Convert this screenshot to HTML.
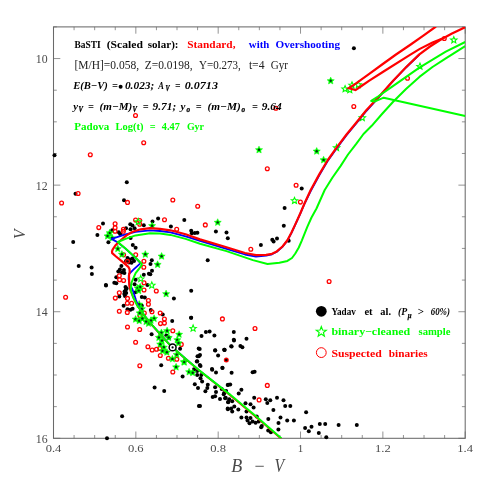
<!DOCTYPE html>
<html><head><meta charset="utf-8"><title>CMD</title>
<style>
html,body{margin:0;padding:0;background:#fff;}
body{width:491px;height:491px;position:relative;overflow:hidden;font-family:"Liberation Serif",serif;}
.s{font-family:"Liberation Serif",serif;}
</style></head><body>
<svg width="491" height="491" viewBox="0 0 491 491" style="position:absolute;left:0;top:0;will-change:transform;opacity:0.999">
<rect width="491" height="491" fill="#fff"/>
<defs><clipPath id="c"><rect x="53.5" y="26.9" width="411.7" height="411.40000000000003"/></clipPath></defs>
<rect x="53.5" y="26.9" width="411.7" height="411.4" fill="none" stroke="#6a6a6a" stroke-width="1.05"/>
<path d="M53.50,438.3v-6.8M53.50,26.9v6.8M74.08,438.3v-3.3M74.08,26.9v3.3M94.67,438.3v-3.3M94.67,26.9v3.3M115.26,438.3v-3.3M115.26,26.9v3.3M135.84,438.3v-6.8M135.84,26.9v6.8M156.43,438.3v-3.3M156.43,26.9v3.3M177.01,438.3v-3.3M177.01,26.9v3.3M197.59,438.3v-3.3M197.59,26.9v3.3M218.18,438.3v-6.8M218.18,26.9v6.8M238.77,438.3v-3.3M238.77,26.9v3.3M259.35,438.3v-3.3M259.35,26.9v3.3M279.94,438.3v-3.3M279.94,26.9v3.3M300.52,438.3v-6.8M300.52,26.9v6.8M321.11,438.3v-3.3M321.11,26.9v3.3M341.69,438.3v-3.3M341.69,26.9v3.3M362.27,438.3v-3.3M362.27,26.9v3.3M382.86,438.3v-6.8M382.86,26.9v6.8M403.44,438.3v-3.3M403.44,26.9v3.3M424.03,438.3v-3.3M424.03,26.9v3.3M444.62,438.3v-3.3M444.62,26.9v3.3M465.20,438.3v-6.8M465.20,26.9v6.8M53.5,26.90h3.3M465.2,26.90h-3.3M53.5,58.55h6.8M465.2,58.55h-6.8M53.5,90.19h3.3M465.2,90.19h-3.3M53.5,121.84h3.3M465.2,121.84h-3.3M53.5,153.48h3.3M465.2,153.48h-3.3M53.5,185.13h6.8M465.2,185.13h-6.8M53.5,216.78h3.3M465.2,216.78h-3.3M53.5,248.42h3.3M465.2,248.42h-3.3M53.5,280.07h3.3M465.2,280.07h-3.3M53.5,311.72h6.8M465.2,311.72h-6.8M53.5,343.36h3.3M465.2,343.36h-3.3M53.5,375.01h3.3M465.2,375.01h-3.3M53.5,406.65h3.3M465.2,406.65h-3.3M53.5,438.30h6.8M465.2,438.30h-6.8" stroke="#666" stroke-width="0.7" fill="none"/>
<text x="53.5" y="451.5" text-anchor="middle" font-size="11" fill="#4a4a4a" class="s" textLength="15.7" lengthAdjust="spacingAndGlyphs">0.4</text>
<text x="135.8" y="451.5" text-anchor="middle" font-size="11" fill="#4a4a4a" class="s" textLength="15.7" lengthAdjust="spacingAndGlyphs">0.6</text>
<text x="218.2" y="451.5" text-anchor="middle" font-size="11" fill="#4a4a4a" class="s" textLength="15.7" lengthAdjust="spacingAndGlyphs">0.8</text>
<text x="300.5" y="451.5" text-anchor="middle" font-size="11" fill="#4a4a4a" class="s">1</text>
<text x="382.9" y="451.5" text-anchor="middle" font-size="11" fill="#4a4a4a" class="s" textLength="15.7" lengthAdjust="spacingAndGlyphs">1.2</text>
<text x="465.2" y="451.5" text-anchor="middle" font-size="11" fill="#4a4a4a" class="s" textLength="15.7" lengthAdjust="spacingAndGlyphs">1.4</text>
<text x="47.6" y="62.9" text-anchor="end" font-size="12" fill="#4a4a4a" class="s" textLength="11.8" lengthAdjust="spacingAndGlyphs">10</text>
<text x="47.6" y="189.5" text-anchor="end" font-size="12" fill="#4a4a4a" class="s" textLength="11.8" lengthAdjust="spacingAndGlyphs">12</text>
<text x="47.6" y="316.1" text-anchor="end" font-size="12" fill="#4a4a4a" class="s" textLength="11.8" lengthAdjust="spacingAndGlyphs">14</text>
<text x="47.6" y="442.7" text-anchor="end" font-size="12" fill="#4a4a4a" class="s" textLength="11.8" lengthAdjust="spacingAndGlyphs">16</text>
<text x="231.2" y="472.4" font-size="18" fill="#4a4a4a" class="s" font-style="italic">B</text>
<text x="259.6" y="472.4" text-anchor="middle" font-size="18" fill="#4a4a4a" class="s">−</text>
<text x="274.6" y="472.4" font-size="18" fill="#4a4a4a" class="s" font-style="italic" textLength="9.6" lengthAdjust="spacingAndGlyphs">V</text>
<text transform="translate(24.8,239) rotate(-90)" font-size="17.5" fill="#4a4a4a" class="s" font-style="italic" textLength="9.6" lengthAdjust="spacingAndGlyphs">V</text>
<g>
<g fill="#000">
<circle cx="54.5" cy="155.2" r="2"/>
<circle cx="126.8" cy="182.3" r="2"/>
<circle cx="75.5" cy="193.7" r="2"/>
<circle cx="124.0" cy="200.2" r="2"/>
<circle cx="353.9" cy="48.3" r="2"/>
<circle cx="120.6" cy="86.8" r="2"/>
<circle cx="301.7" cy="188.6" r="2"/>
<circle cx="284.6" cy="208" r="2"/>
<circle cx="283.8" cy="225.7" r="2"/>
<circle cx="215.9" cy="231.6" r="2"/>
<circle cx="226.5" cy="232.6" r="2"/>
<circle cx="227.8" cy="238.2" r="2"/>
<circle cx="260.9" cy="245" r="2"/>
<circle cx="272.3" cy="239.8" r="2"/>
<circle cx="273.6" cy="241.4" r="2"/>
<circle cx="277" cy="238.4" r="2"/>
<circle cx="288.7" cy="240.8" r="2"/>
<circle cx="207.7" cy="260.2" r="2"/>
<circle cx="103.0" cy="223.5" r="2"/>
<circle cx="108.4" cy="242.3" r="2"/>
<circle cx="112.2" cy="230.3" r="2"/>
<circle cx="118.8" cy="232.3" r="2"/>
<circle cx="120.4" cy="234.3" r="2"/>
<circle cx="126" cy="228.2" r="2"/>
<circle cx="130.3" cy="224.3" r="2"/>
<circle cx="132.5" cy="225.5" r="2"/>
<circle cx="130.5" cy="229.3" r="2"/>
<circle cx="134.6" cy="228.2" r="2"/>
<circle cx="143.8" cy="225.2" r="2"/>
<circle cx="130.6" cy="238.1" r="2"/>
<circle cx="132.8" cy="245" r="2"/>
<circle cx="135.6" cy="247.8" r="2"/>
<circle cx="127.5" cy="258" r="2"/>
<circle cx="130" cy="259.5" r="2"/>
<circle cx="132.5" cy="258.5" r="2"/>
<circle cx="134" cy="261" r="2"/>
<circle cx="129" cy="262.5" r="2"/>
<circle cx="131.5" cy="262.8" r="2"/>
<circle cx="126" cy="261" r="2"/>
<circle cx="97.4" cy="235.1" r="2"/>
<circle cx="105.9" cy="285.1" r="2"/>
<circle cx="114.3" cy="282.8" r="2"/>
<circle cx="116.3" cy="283.3" r="2"/>
<circle cx="116.3" cy="277.2" r="2"/>
<circle cx="121.4" cy="266" r="2"/>
<circle cx="119.9" cy="269.6" r="2"/>
<circle cx="118.3" cy="271.6" r="2"/>
<circle cx="123.9" cy="270.1" r="2"/>
<circle cx="124.4" cy="273.1" r="2"/>
<circle cx="121.9" cy="272.6" r="2"/>
<circle cx="125.5" cy="287" r="2"/>
<circle cx="125.7" cy="290" r="2"/>
<circle cx="126.2" cy="293" r="2"/>
<circle cx="125" cy="296" r="2"/>
<circle cx="124.6" cy="291.5" r="2"/>
<circle cx="126.6" cy="288.5" r="2"/>
<circle cx="124.3" cy="294" r="2"/>
<circle cx="119.3" cy="296.6" r="2"/>
<circle cx="123.6" cy="305.7" r="2"/>
<circle cx="132.6" cy="308.8" r="2"/>
<circle cx="127.5" cy="309.3" r="2"/>
<circle cx="130.5" cy="309.8" r="2"/>
<circle cx="143.8" cy="274.7" r="2"/>
<circle cx="148.9" cy="273.7" r="2"/>
<circle cx="135.6" cy="279.8" r="2"/>
<circle cx="147.4" cy="284.9" r="2"/>
<circle cx="134.6" cy="284.3" r="2"/>
<circle cx="135.6" cy="292.3" r="2"/>
<circle cx="141.8" cy="297.1" r="2"/>
<circle cx="144.8" cy="297.4" r="2"/>
<circle cx="141.8" cy="305.7" r="2"/>
<circle cx="152.5" cy="221.6" r="2"/>
<circle cx="158.1" cy="218.6" r="2"/>
<circle cx="170.9" cy="226.5" r="2"/>
<circle cx="184.3" cy="220.1" r="2"/>
<circle cx="191.2" cy="230.8" r="2"/>
<circle cx="191.8" cy="233.3" r="2"/>
<circle cx="194.8" cy="233.1" r="2"/>
<circle cx="197.4" cy="232.8" r="2"/>
<circle cx="151.8" cy="260.3" r="2"/>
<circle cx="150.5" cy="263.9" r="2"/>
<circle cx="152" cy="270.8" r="2"/>
<circle cx="150.3" cy="274.2" r="2"/>
<circle cx="173.9" cy="298.4" r="2"/>
<circle cx="191.2" cy="290.8" r="2"/>
<circle cx="162.7" cy="314.4" r="2"/>
<circle cx="73.2" cy="242.1" r="2"/>
<circle cx="78.7" cy="265.9" r="2"/>
<circle cx="91.6" cy="267.5" r="2"/>
<circle cx="91.9" cy="273.9" r="2"/>
<circle cx="106" cy="285.5" r="2"/>
<circle cx="150.8" cy="310.1" r="2"/>
<circle cx="172.2" cy="320.9" r="2"/>
<circle cx="191.1" cy="317.7" r="2"/>
<circle cx="151.6" cy="334.3" r="2"/>
<circle cx="166.3" cy="335.6" r="2"/>
<circle cx="169.3" cy="337.8" r="2"/>
<circle cx="180.1" cy="348.7" r="2"/>
<circle cx="198.7" cy="348.4" r="2"/>
<circle cx="197.5" cy="356.3" r="2"/>
<circle cx="196.8" cy="361.5" r="2"/>
<circle cx="200" cy="355.1" r="2"/>
<circle cx="161.2" cy="365.3" r="2"/>
<circle cx="182.6" cy="376.6" r="2"/>
<circle cx="154.6" cy="387.6" r="2"/>
<circle cx="164.2" cy="391" r="2"/>
<circle cx="198.9" cy="406" r="2"/>
<circle cx="194.8" cy="384.3" r="2"/>
<circle cx="198" cy="388" r="2"/>
<circle cx="199.7" cy="349" r="2"/>
<circle cx="198.9" cy="356.3" r="2"/>
<circle cx="197.2" cy="361.2" r="2"/>
<circle cx="200.5" cy="366.1" r="2"/>
<circle cx="194" cy="369.3" r="2"/>
<circle cx="197.2" cy="370.9" r="2"/>
<circle cx="197.2" cy="375" r="2"/>
<circle cx="201.3" cy="375" r="2"/>
<circle cx="200.5" cy="378.3" r="2"/>
<circle cx="202.1" cy="381.5" r="2"/>
<circle cx="207.8" cy="384.8" r="2"/>
<circle cx="207.3" cy="388" r="2"/>
<circle cx="205.4" cy="391.3" r="2"/>
<circle cx="215.1" cy="350.6" r="2"/>
<circle cx="218.1" cy="355.5" r="2"/>
<circle cx="224.6" cy="350.1" r="2"/>
<circle cx="212.2" cy="369.8" r="2"/>
<circle cx="216" cy="372.6" r="2"/>
<circle cx="222.5" cy="368" r="2"/>
<circle cx="215.1" cy="387.2" r="2"/>
<circle cx="216" cy="392.1" r="2"/>
<circle cx="212.7" cy="397" r="2"/>
<circle cx="215.1" cy="396.2" r="2"/>
<circle cx="220" cy="399" r="2"/>
<circle cx="221.7" cy="388.9" r="2"/>
<circle cx="224.1" cy="392.9" r="2"/>
<circle cx="225.7" cy="397.8" r="2"/>
<circle cx="228.2" cy="384.8" r="2"/>
<circle cx="228.2" cy="401.9" r="2"/>
<circle cx="227.9" cy="409.2" r="2"/>
<circle cx="233.8" cy="332" r="2"/>
<circle cx="233.8" cy="339.8" r="2"/>
<circle cx="246.5" cy="338.8" r="2"/>
<circle cx="231.2" cy="346.3" r="2"/>
<circle cx="240.4" cy="345.9" r="2"/>
<circle cx="242.4" cy="347.3" r="2"/>
<circle cx="224.5" cy="349.8" r="2"/>
<circle cx="222.4" cy="367.7" r="2"/>
<circle cx="231.6" cy="372.8" r="2"/>
<circle cx="252.6" cy="372.2" r="2"/>
<circle cx="254.6" cy="371.8" r="2"/>
<circle cx="227.7" cy="385" r="2"/>
<circle cx="230.2" cy="384.4" r="2"/>
<circle cx="241.4" cy="389.7" r="2"/>
<circle cx="238.7" cy="393.5" r="2"/>
<circle cx="226.1" cy="391.1" r="2"/>
<circle cx="223.7" cy="394.2" r="2"/>
<circle cx="225.1" cy="398.2" r="2"/>
<circle cx="229.2" cy="399.2" r="2"/>
<circle cx="228.1" cy="402.3" r="2"/>
<circle cx="232.2" cy="401.3" r="2"/>
<circle cx="234.3" cy="406.4" r="2"/>
<circle cx="231.2" cy="408.4" r="2"/>
<circle cx="227.7" cy="408.4" r="2"/>
<circle cx="232.2" cy="411.5" r="2"/>
<circle cx="238.3" cy="409.4" r="2"/>
<circle cx="245.5" cy="403.3" r="2"/>
<circle cx="250.5" cy="404.3" r="2"/>
<circle cx="253.6" cy="407.4" r="2"/>
<circle cx="246.5" cy="411.5" r="2"/>
<circle cx="254.2" cy="397.8" r="2"/>
<circle cx="241.4" cy="417.6" r="2"/>
<circle cx="246.5" cy="417.6" r="2"/>
<circle cx="250.5" cy="418" r="2"/>
<circle cx="247.5" cy="420.6" r="2"/>
<circle cx="252.6" cy="421.6" r="2"/>
<circle cx="249.5" cy="423.3" r="2"/>
<circle cx="255.6" cy="422.7" r="2"/>
<circle cx="258.7" cy="421.6" r="2"/>
<circle cx="256.7" cy="416.6" r="2"/>
<circle cx="261.8" cy="426.1" r="2"/>
<circle cx="268.3" cy="419" r="2"/>
<circle cx="265.8" cy="399.2" r="2"/>
<circle cx="267.3" cy="402.9" r="2"/>
<circle cx="270.3" cy="400.3" r="2"/>
<circle cx="277" cy="397.8" r="2"/>
<circle cx="283.5" cy="400.3" r="2"/>
<circle cx="285.2" cy="406" r="2"/>
<circle cx="290.3" cy="406" r="2"/>
<circle cx="273.4" cy="410" r="2"/>
<circle cx="280.5" cy="417.4" r="2"/>
<circle cx="278.5" cy="423.1" r="2"/>
<circle cx="287.2" cy="420.5" r="2"/>
<circle cx="293.9" cy="420.6" r="2"/>
<circle cx="306.1" cy="412.2" r="2"/>
<circle cx="305.1" cy="428" r="2"/>
<circle cx="311.5" cy="426.8" r="2"/>
<circle cx="308.8" cy="431.3" r="2"/>
<circle cx="319.8" cy="424.1" r="2"/>
<circle cx="325.2" cy="424.1" r="2"/>
<circle cx="261.1" cy="427.2" r="2"/>
<circle cx="268.2" cy="430.5" r="2"/>
<circle cx="270.9" cy="432.3" r="2"/>
<circle cx="278.4" cy="429.5" r="2"/>
<circle cx="318.8" cy="433.1" r="2"/>
<circle cx="326.3" cy="437.2" r="2"/>
<circle cx="338.6" cy="424.9" r="2"/>
<circle cx="356.8" cy="424.9" r="2"/>
<circle cx="122.1" cy="416.3" r="2"/>
<circle cx="107" cy="438.3" r="2"/>
<circle cx="205.9" cy="331.9" r="2"/>
<circle cx="209.6" cy="331.4" r="2"/>
<circle cx="201.5" cy="336.1" r="2"/>
<circle cx="214.4" cy="335.6" r="2"/>
<circle cx="234" cy="340.5" r="2"/>
<circle cx="231.6" cy="346.6" r="2"/>
<circle cx="224.2" cy="349.8" r="2"/>
<circle cx="215.2" cy="350.2" r="2"/>
<circle cx="199.8" cy="364.9" r="2"/>
<circle cx="212" cy="369.1" r="2"/>
<circle cx="191.1" cy="317.7" r="2"/>
<circle cx="200" cy="406.1" r="2"/>
</g>
<g fill="none" stroke="#f00" stroke-width="1.3">
<circle cx="197.7" cy="206.3" r="1.9"/>
<circle cx="135.5" cy="115.5" r="1.9"/>
<circle cx="143.7" cy="142.8" r="1.9"/>
<circle cx="90.3" cy="154.8" r="1.9"/>
<circle cx="78.1" cy="193.5" r="1.9"/>
<circle cx="172.8" cy="200" r="1.9"/>
<circle cx="275.9" cy="108.2" r="1.9"/>
<circle cx="127.5" cy="202.4" r="1.9"/>
<circle cx="444.3" cy="38.5" r="1.9"/>
<circle cx="407.5" cy="78.2" r="1.9"/>
<circle cx="353.8" cy="106.5" r="1.9"/>
<circle cx="267.3" cy="168.8" r="1.9"/>
<circle cx="296.1" cy="185.2" r="1.9"/>
<circle cx="300.4" cy="202.1" r="1.9"/>
<circle cx="205.3" cy="224.9" r="1.9"/>
<circle cx="250.8" cy="249.3" r="1.9"/>
<circle cx="329.1" cy="281.5" r="1.9"/>
<circle cx="222.4" cy="318.9" r="1.9"/>
<circle cx="255" cy="328.5" r="1.9"/>
<circle cx="115.1" cy="223.7" r="1.9"/>
<circle cx="115.1" cy="227.7" r="1.9"/>
<circle cx="115.1" cy="231.3" r="1.9"/>
<circle cx="123.4" cy="229.3" r="1.9"/>
<circle cx="123.4" cy="231.3" r="1.9"/>
<circle cx="135.6" cy="220.1" r="1.9"/>
<circle cx="139.7" cy="220.6" r="1.9"/>
<circle cx="139.7" cy="224.2" r="1.9"/>
<circle cx="123.6" cy="254.7" r="1.9"/>
<circle cx="135.7" cy="254.8" r="1.9"/>
<circle cx="127.5" cy="261.3" r="1.9"/>
<circle cx="143.9" cy="261.3" r="1.9"/>
<circle cx="143.8" cy="267.3" r="1.9"/>
<circle cx="119.3" cy="275.7" r="1.9"/>
<circle cx="119.6" cy="279.8" r="1.9"/>
<circle cx="123.6" cy="280.5" r="1.9"/>
<circle cx="119.3" cy="292.7" r="1.9"/>
<circle cx="115.3" cy="298.1" r="1.9"/>
<circle cx="127.5" cy="298.4" r="1.9"/>
<circle cx="127.3" cy="303.2" r="1.9"/>
<circle cx="131.6" cy="303.2" r="1.9"/>
<circle cx="119.3" cy="311.3" r="1.9"/>
<circle cx="127.3" cy="312.4" r="1.9"/>
<circle cx="144" cy="282.8" r="1.9"/>
<circle cx="144" cy="290" r="1.9"/>
<circle cx="148.4" cy="300.6" r="1.9"/>
<circle cx="148.4" cy="304.2" r="1.9"/>
<circle cx="144.3" cy="313" r="1.9"/>
<circle cx="164.5" cy="219.8" r="1.9"/>
<circle cx="176.7" cy="229.3" r="1.9"/>
<circle cx="156.3" cy="291" r="1.9"/>
<circle cx="152" cy="311.8" r="1.9"/>
<circle cx="160.2" cy="313" r="1.9"/>
<circle cx="61.6" cy="203" r="1.9"/>
<circle cx="98.8" cy="227.6" r="1.9"/>
<circle cx="65.6" cy="297.2" r="1.9"/>
<circle cx="127.5" cy="327" r="1.9"/>
<circle cx="139.7" cy="329.5" r="1.9"/>
<circle cx="135.6" cy="342.3" r="1.9"/>
<circle cx="147.9" cy="346.7" r="1.9"/>
<circle cx="139.8" cy="365.8" r="1.9"/>
<circle cx="139.9" cy="315.5" r="1.9"/>
<circle cx="164.4" cy="319.1" r="1.9"/>
<circle cx="164.4" cy="323.1" r="1.9"/>
<circle cx="160.5" cy="323.6" r="1.9"/>
<circle cx="172.8" cy="330.7" r="1.9"/>
<circle cx="181.3" cy="344.4" r="1.9"/>
<circle cx="152.2" cy="350" r="1.9"/>
<circle cx="156.5" cy="349.3" r="1.9"/>
<circle cx="159.8" cy="348.4" r="1.9"/>
<circle cx="160.3" cy="355.5" r="1.9"/>
<circle cx="168.4" cy="358.2" r="1.9"/>
<circle cx="176.8" cy="359.3" r="1.9"/>
<circle cx="172.8" cy="372" r="1.9"/>
<circle cx="267.3" cy="385.4" r="1.9"/>
<circle cx="259.1" cy="399.9" r="1.9"/>
</g>
<circle cx="226.3" cy="360" r="2.5" fill="#f00"/><circle cx="226.3" cy="360" r="1.35" fill="#100"/>
<path d="M330.70,77.10 L331.79,79.40 L334.31,79.73 L332.46,81.47 L332.93,83.97 L330.70,82.75 L328.47,83.97 L328.94,81.47 L327.09,79.73 L329.61,79.40Z" fill="#0f0" stroke="#0f0" stroke-width="0.45" stroke-linejoin="round"/><circle cx="330.7" cy="80.8" r="1.2" fill="#031"/>
<path d="M259.00,146.10 L260.09,148.40 L262.61,148.73 L260.76,150.47 L261.23,152.97 L259.00,151.75 L256.77,152.97 L257.24,150.47 L255.39,148.73 L257.91,148.40Z" fill="#0f0" stroke="#0f0" stroke-width="0.45" stroke-linejoin="round"/><circle cx="259" cy="149.79999999999998" r="1.2" fill="#031"/>
<path d="M316.70,147.50 L317.79,149.80 L320.31,150.13 L318.46,151.87 L318.93,154.37 L316.70,153.15 L314.47,154.37 L314.94,151.87 L313.09,150.13 L315.61,149.80Z" fill="#0f0" stroke="#0f0" stroke-width="0.45" stroke-linejoin="round"/><circle cx="316.7" cy="151.2" r="1.2" fill="#031"/>
<path d="M323.60,156.20 L324.69,158.50 L327.21,158.83 L325.36,160.57 L325.83,163.07 L323.60,161.85 L321.37,163.07 L321.84,160.57 L319.99,158.83 L322.51,158.50Z" fill="#0f0" stroke="#0f0" stroke-width="0.45" stroke-linejoin="round"/><circle cx="323.6" cy="159.9" r="1.2" fill="#031"/>
<path d="M217.70,218.70 L218.79,221.00 L221.31,221.33 L219.46,223.07 L219.93,225.57 L217.70,224.35 L215.47,225.57 L215.94,223.07 L214.09,221.33 L216.61,221.00Z" fill="#0f0" stroke="#0f0" stroke-width="0.45" stroke-linejoin="round"/><circle cx="217.7" cy="222.4" r="1.2" fill="#031"/>
<path d="M109.70,229.20 L110.79,231.50 L113.31,231.83 L111.46,233.57 L111.93,236.07 L109.70,234.85 L107.47,236.07 L107.94,233.57 L106.09,231.83 L108.61,231.50Z" fill="#0f0" stroke="#0f0" stroke-width="0.45" stroke-linejoin="round"/><circle cx="109.7" cy="232.9" r="1.2" fill="#031"/>
<path d="M107.60,232.30 L108.69,234.60 L111.21,234.93 L109.36,236.67 L109.83,239.17 L107.60,237.95 L105.37,239.17 L105.84,236.67 L103.99,234.93 L106.51,234.60Z" fill="#0f0" stroke="#0f0" stroke-width="0.45" stroke-linejoin="round"/><circle cx="107.6" cy="236.0" r="1.2" fill="#031"/>
<path d="M112.20,234.30 L113.29,236.60 L115.81,236.93 L113.96,238.67 L114.43,241.17 L112.20,239.95 L109.97,241.17 L110.44,238.67 L108.59,236.93 L111.11,236.60Z" fill="#0f0" stroke="#0f0" stroke-width="0.45" stroke-linejoin="round"/><circle cx="112.2" cy="238.0" r="1.2" fill="#031"/>
<path d="M117.80,245.00 L118.89,247.30 L121.41,247.63 L119.56,249.37 L120.03,251.87 L117.80,250.65 L115.57,251.87 L116.04,249.37 L114.19,247.63 L116.71,247.30Z" fill="#0f0" stroke="#0f0" stroke-width="0.45" stroke-linejoin="round"/><circle cx="117.8" cy="248.7" r="1.2" fill="#031"/>
<path d="M121.90,250.60 L122.99,252.90 L125.51,253.23 L123.66,254.97 L124.13,257.47 L121.90,256.25 L119.67,257.47 L120.14,254.97 L118.29,253.23 L120.81,252.90Z" fill="#0f0" stroke="#0f0" stroke-width="0.45" stroke-linejoin="round"/><circle cx="121.9" cy="254.29999999999998" r="1.2" fill="#031"/>
<path d="M145.30,250.60 L146.39,252.90 L148.91,253.23 L147.06,254.97 L147.53,257.47 L145.30,256.25 L143.07,257.47 L143.54,254.97 L141.69,253.23 L144.21,252.90Z" fill="#0f0" stroke="#0f0" stroke-width="0.45" stroke-linejoin="round"/><circle cx="145.3" cy="254.29999999999998" r="1.2" fill="#031"/>
<path d="M137.70,284.30 L138.79,286.60 L141.31,286.93 L139.46,288.67 L139.93,291.17 L137.70,289.95 L135.47,291.17 L135.94,288.67 L134.09,286.93 L136.61,286.60Z" fill="#0f0" stroke="#0f0" stroke-width="0.45" stroke-linejoin="round"/><circle cx="137.7" cy="288.0" r="1.2" fill="#031"/>
<path d="M140.20,283.30 L141.29,285.60 L143.81,285.93 L141.96,287.67 L142.43,290.17 L140.20,288.95 L137.97,290.17 L138.44,287.67 L136.59,285.93 L139.11,285.60Z" fill="#0f0" stroke="#0f0" stroke-width="0.45" stroke-linejoin="round"/><circle cx="140.2" cy="287.0" r="1.2" fill="#031"/>
<path d="M138.70,286.90 L139.79,289.20 L142.31,289.53 L140.46,291.27 L140.93,293.77 L138.70,292.55 L136.47,293.77 L136.94,291.27 L135.09,289.53 L137.61,289.20Z" fill="#0f0" stroke="#0f0" stroke-width="0.45" stroke-linejoin="round"/><circle cx="138.7" cy="290.6" r="1.2" fill="#031"/>
<path d="M139.20,300.60 L140.29,302.90 L142.81,303.23 L140.96,304.97 L141.43,307.47 L139.20,306.25 L136.97,307.47 L137.44,304.97 L135.59,303.23 L138.11,302.90Z" fill="#0f0" stroke="#0f0" stroke-width="0.45" stroke-linejoin="round"/><circle cx="139.2" cy="304.3" r="1.2" fill="#031"/>
<path d="M141.80,305.20 L142.89,307.50 L145.41,307.83 L143.56,309.57 L144.03,312.07 L141.80,310.85 L139.57,312.07 L140.04,309.57 L138.19,307.83 L140.71,307.50Z" fill="#0f0" stroke="#0f0" stroke-width="0.45" stroke-linejoin="round"/><circle cx="141.8" cy="308.90000000000003" r="1.2" fill="#031"/>
<path d="M139.70,309.30 L140.79,311.60 L143.31,311.93 L141.46,313.67 L141.93,316.17 L139.70,314.95 L137.47,316.17 L137.94,313.67 L136.09,311.93 L138.61,311.60Z" fill="#0f0" stroke="#0f0" stroke-width="0.45" stroke-linejoin="round"/><circle cx="139.7" cy="313.0" r="1.2" fill="#031"/>
<path d="M152.10,222.00 L153.19,224.30 L155.71,224.63 L153.86,226.37 L154.33,228.87 L152.10,227.65 L149.87,228.87 L150.34,226.37 L148.49,224.63 L151.01,224.30Z" fill="#0f0" stroke="#0f0" stroke-width="0.45" stroke-linejoin="round"/><circle cx="152.1" cy="225.7" r="1.2" fill="#031"/>
<path d="M161.60,252.50 L162.69,254.80 L165.21,255.13 L163.36,256.87 L163.83,259.37 L161.60,258.15 L159.37,259.37 L159.84,256.87 L157.99,255.13 L160.51,254.80Z" fill="#0f0" stroke="#0f0" stroke-width="0.45" stroke-linejoin="round"/><circle cx="161.6" cy="256.20000000000005" r="1.2" fill="#031"/>
<path d="M157.60,260.80 L158.69,263.10 L161.21,263.43 L159.36,265.17 L159.83,267.67 L157.60,266.45 L155.37,267.67 L155.84,265.17 L153.99,263.43 L156.51,263.10Z" fill="#0f0" stroke="#0f0" stroke-width="0.45" stroke-linejoin="round"/><circle cx="157.6" cy="264.5" r="1.2" fill="#031"/>
<path d="M166.10,290.10 L167.19,292.40 L169.71,292.73 L167.86,294.47 L168.33,296.97 L166.10,295.75 L163.87,296.97 L164.34,294.47 L162.49,292.73 L165.01,292.40Z" fill="#0f0" stroke="#0f0" stroke-width="0.45" stroke-linejoin="round"/><circle cx="166.1" cy="293.8" r="1.2" fill="#031"/>
<path d="M135.60,315.50 L136.69,317.80 L139.21,318.13 L137.36,319.87 L137.83,322.37 L135.60,321.15 L133.37,322.37 L133.84,319.87 L131.99,318.13 L134.51,317.80Z" fill="#0f0" stroke="#0f0" stroke-width="0.45" stroke-linejoin="round"/><circle cx="135.6" cy="319.20000000000005" r="1.2" fill="#031"/>
<path d="M139.20,317.00 L140.29,319.30 L142.81,319.63 L140.96,321.37 L141.43,323.87 L139.20,322.65 L136.97,323.87 L137.44,321.37 L135.59,319.63 L138.11,319.30Z" fill="#0f0" stroke="#0f0" stroke-width="0.45" stroke-linejoin="round"/><circle cx="139.2" cy="320.70000000000005" r="1.2" fill="#031"/>
<path d="M142.40,314.80 L143.49,317.10 L146.01,317.43 L144.16,319.17 L144.63,321.67 L142.40,320.45 L140.17,321.67 L140.64,319.17 L138.79,317.43 L141.31,317.10Z" fill="#0f0" stroke="#0f0" stroke-width="0.45" stroke-linejoin="round"/><circle cx="142.4" cy="318.5" r="1.2" fill="#031"/>
<path d="M148.60,319.70 L149.69,322.00 L152.21,322.33 L150.36,324.07 L150.83,326.57 L148.60,325.35 L146.37,326.57 L146.84,324.07 L144.99,322.33 L147.51,322.00Z" fill="#0f0" stroke="#0f0" stroke-width="0.45" stroke-linejoin="round"/><circle cx="148.6" cy="323.40000000000003" r="1.2" fill="#031"/>
<path d="M154.10,314.80 L155.19,317.10 L157.71,317.43 L155.86,319.17 L156.33,321.67 L154.10,320.45 L151.87,321.67 L152.34,319.17 L150.49,317.43 L153.01,317.10Z" fill="#0f0" stroke="#0f0" stroke-width="0.45" stroke-linejoin="round"/><circle cx="154.1" cy="318.5" r="1.2" fill="#031"/>
<path d="M151.00,316.70 L152.09,319.00 L154.61,319.33 L152.76,321.07 L153.23,323.57 L151.00,322.35 L148.77,323.57 L149.24,321.07 L147.39,319.33 L149.91,319.00Z" fill="#0f0" stroke="#0f0" stroke-width="0.45" stroke-linejoin="round"/><circle cx="151" cy="320.40000000000003" r="1.2" fill="#031"/>
<path d="M146.10,317.90 L147.19,320.20 L149.71,320.53 L147.86,322.27 L148.33,324.77 L146.10,323.55 L143.87,324.77 L144.34,322.27 L142.49,320.53 L145.01,320.20Z" fill="#0f0" stroke="#0f0" stroke-width="0.45" stroke-linejoin="round"/><circle cx="146.1" cy="321.6" r="1.2" fill="#031"/>
<path d="M167.10,327.10 L168.19,329.40 L170.71,329.73 L168.86,331.47 L169.33,333.97 L167.10,332.75 L164.87,333.97 L165.34,331.47 L163.49,329.73 L166.01,329.40Z" fill="#0f0" stroke="#0f0" stroke-width="0.45" stroke-linejoin="round"/><circle cx="167.1" cy="330.8" r="1.2" fill="#031"/>
<path d="M161.40,328.90 L162.49,331.20 L165.01,331.53 L163.16,333.27 L163.63,335.77 L161.40,334.55 L159.17,335.77 L159.64,333.27 L157.79,331.53 L160.31,331.20Z" fill="#0f0" stroke="#0f0" stroke-width="0.45" stroke-linejoin="round"/><circle cx="161.4" cy="332.6" r="1.2" fill="#031"/>
<path d="M158.90,333.80 L159.99,336.10 L162.51,336.43 L160.66,338.17 L161.13,340.67 L158.90,339.45 L156.67,340.67 L157.14,338.17 L155.29,336.43 L157.81,336.10Z" fill="#0f0" stroke="#0f0" stroke-width="0.45" stroke-linejoin="round"/><circle cx="158.9" cy="337.5" r="1.2" fill="#031"/>
<path d="M168.70,333.80 L169.79,336.10 L172.31,336.43 L170.46,338.17 L170.93,340.67 L168.70,339.45 L166.47,340.67 L166.94,338.17 L165.09,336.43 L167.61,336.10Z" fill="#0f0" stroke="#0f0" stroke-width="0.45" stroke-linejoin="round"/><circle cx="168.7" cy="337.5" r="1.2" fill="#031"/>
<path d="M162.00,336.90 L163.09,339.20 L165.61,339.53 L163.76,341.27 L164.23,343.77 L162.00,342.55 L159.77,343.77 L160.24,341.27 L158.39,339.53 L160.91,339.20Z" fill="#0f0" stroke="#0f0" stroke-width="0.45" stroke-linejoin="round"/><circle cx="162" cy="340.6" r="1.2" fill="#031"/>
<path d="M160.20,340.50 L161.29,342.80 L163.81,343.13 L161.96,344.87 L162.43,347.37 L160.20,346.15 L157.97,347.37 L158.44,344.87 L156.59,343.13 L159.11,342.80Z" fill="#0f0" stroke="#0f0" stroke-width="0.45" stroke-linejoin="round"/><circle cx="160.2" cy="344.20000000000005" r="1.2" fill="#031"/>
<path d="M163.80,343.60 L164.89,345.90 L167.41,346.23 L165.56,347.97 L166.03,350.47 L163.80,349.25 L161.57,350.47 L162.04,347.97 L160.19,346.23 L162.71,345.90Z" fill="#0f0" stroke="#0f0" stroke-width="0.45" stroke-linejoin="round"/><circle cx="163.8" cy="347.3" r="1.2" fill="#031"/>
<path d="M162.60,347.20 L163.69,349.50 L166.21,349.83 L164.36,351.57 L164.83,354.07 L162.60,352.85 L160.37,354.07 L160.84,351.57 L158.99,349.83 L161.51,349.50Z" fill="#0f0" stroke="#0f0" stroke-width="0.45" stroke-linejoin="round"/><circle cx="162.6" cy="350.90000000000003" r="1.2" fill="#031"/>
<path d="M166.90,348.50 L167.99,350.80 L170.51,351.13 L168.66,352.87 L169.13,355.37 L166.90,354.15 L164.67,355.37 L165.14,352.87 L163.29,351.13 L165.81,350.80Z" fill="#0f0" stroke="#0f0" stroke-width="0.45" stroke-linejoin="round"/><circle cx="166.9" cy="352.20000000000005" r="1.2" fill="#031"/>
<path d="M179.10,330.70 L180.19,333.00 L182.71,333.33 L180.86,335.07 L181.33,337.57 L179.10,336.35 L176.87,337.57 L177.34,335.07 L175.49,333.33 L178.01,333.00Z" fill="#0f0" stroke="#0f0" stroke-width="0.45" stroke-linejoin="round"/><circle cx="179.1" cy="334.40000000000003" r="1.2" fill="#031"/>
<path d="M177.30,336.20 L178.39,338.50 L180.91,338.83 L179.06,340.57 L179.53,343.07 L177.30,341.85 L175.07,343.07 L175.54,340.57 L173.69,338.83 L176.21,338.50Z" fill="#0f0" stroke="#0f0" stroke-width="0.45" stroke-linejoin="round"/><circle cx="177.3" cy="339.90000000000003" r="1.2" fill="#031"/>
<path d="M178.50,339.30 L179.59,341.60 L182.11,341.93 L180.26,343.67 L180.73,346.17 L178.50,344.95 L176.27,346.17 L176.74,343.67 L174.89,341.93 L177.41,341.60Z" fill="#0f0" stroke="#0f0" stroke-width="0.45" stroke-linejoin="round"/><circle cx="178.5" cy="343.0" r="1.2" fill="#031"/>
<path d="M172.40,355.20 L173.49,357.50 L176.01,357.83 L174.16,359.57 L174.63,362.07 L172.40,360.85 L170.17,362.07 L170.64,359.57 L168.79,357.83 L171.31,357.50Z" fill="#0f0" stroke="#0f0" stroke-width="0.45" stroke-linejoin="round"/><circle cx="172.4" cy="358.90000000000003" r="1.2" fill="#031"/>
<path d="M176.70,350.90 L177.79,353.20 L180.31,353.53 L178.46,355.27 L178.93,357.77 L176.70,356.55 L174.47,357.77 L174.94,355.27 L173.09,353.53 L175.61,353.20Z" fill="#0f0" stroke="#0f0" stroke-width="0.45" stroke-linejoin="round"/><circle cx="176.7" cy="354.6" r="1.2" fill="#031"/>
<path d="M184.00,358.20 L185.09,360.50 L187.61,360.83 L185.76,362.57 L186.23,365.07 L184.00,363.85 L181.77,365.07 L182.24,362.57 L180.39,360.83 L182.91,360.50Z" fill="#0f0" stroke="#0f0" stroke-width="0.45" stroke-linejoin="round"/><circle cx="184" cy="361.90000000000003" r="1.2" fill="#031"/>
<path d="M176.10,363.30 L177.19,365.60 L179.71,365.93 L177.86,367.67 L178.33,370.17 L176.10,368.95 L173.87,370.17 L174.34,367.67 L172.49,365.93 L175.01,365.60Z" fill="#0f0" stroke="#0f0" stroke-width="0.45" stroke-linejoin="round"/><circle cx="176.1" cy="367.0" r="1.2" fill="#031"/>
<path d="M184.20,358.40 L185.29,360.70 L187.81,361.03 L185.96,362.77 L186.43,365.27 L184.20,364.05 L181.97,365.27 L182.44,362.77 L180.59,361.03 L183.11,360.70Z" fill="#0f0" stroke="#0f0" stroke-width="0.45" stroke-linejoin="round"/><circle cx="184.2" cy="362.1" r="1.2" fill="#031"/>
<path d="M189.10,368.20 L190.19,370.50 L192.71,370.83 L190.86,372.57 L191.33,375.07 L189.10,373.85 L186.87,375.07 L187.34,372.57 L185.49,370.83 L188.01,370.50Z" fill="#0f0" stroke="#0f0" stroke-width="0.45" stroke-linejoin="round"/><circle cx="189.1" cy="371.90000000000003" r="1.2" fill="#031"/>
<path d="M192.70,369.00 L193.79,371.30 L196.31,371.63 L194.46,373.37 L194.93,375.87 L192.70,374.65 L190.47,375.87 L190.94,373.37 L189.09,371.63 L191.61,371.30Z" fill="#0f0" stroke="#0f0" stroke-width="0.45" stroke-linejoin="round"/><circle cx="192.7" cy="372.70000000000005" r="1.2" fill="#031"/>
<path d="M453.80,36.75 L454.68,38.89 L456.99,39.06 L455.23,40.56 L455.77,42.81 L453.80,41.60 L451.83,42.81 L452.37,40.56 L450.61,39.06 L452.92,38.89Z" fill="none" stroke="#0f0" stroke-width="1.1" stroke-linejoin="miter"/>
<path d="M420.00,63.15 L420.88,65.29 L423.19,65.46 L421.43,66.96 L421.97,69.21 L420.00,68.00 L418.03,69.21 L418.57,66.96 L416.81,65.46 L419.12,65.29Z" fill="none" stroke="#0f0" stroke-width="1.1" stroke-linejoin="miter"/>
<path d="M362.30,114.45 L363.18,116.59 L365.49,116.76 L363.73,118.26 L364.27,120.51 L362.30,119.30 L360.33,120.51 L360.87,118.26 L359.11,116.76 L361.42,116.59Z" fill="none" stroke="#0f0" stroke-width="1.1" stroke-linejoin="miter"/>
<path d="M345.10,85.65 L345.98,87.79 L348.29,87.96 L346.53,89.46 L347.07,91.71 L345.10,90.50 L343.13,91.71 L343.67,89.46 L341.91,87.96 L344.22,87.79Z" fill="none" stroke="#0f0" stroke-width="1.1" stroke-linejoin="miter"/>
<path d="M349.80,86.65 L350.68,88.79 L352.99,88.96 L351.23,90.46 L351.77,92.71 L349.80,91.50 L347.83,92.71 L348.37,90.46 L346.61,88.96 L348.92,88.79Z" fill="none" stroke="#0f0" stroke-width="1.1" stroke-linejoin="miter"/>
<path d="M352.00,81.85 L352.88,83.99 L355.19,84.16 L353.43,85.66 L353.97,87.91 L352.00,86.70 L350.03,87.91 L350.57,85.66 L348.81,84.16 L351.12,83.99Z" fill="none" stroke="#0f0" stroke-width="1.1" stroke-linejoin="miter"/>
<path d="M358.30,81.45 L359.18,83.59 L361.49,83.76 L359.73,85.26 L360.27,87.51 L358.30,86.30 L356.33,87.51 L356.87,85.26 L355.11,83.76 L357.42,83.59Z" fill="none" stroke="#0f0" stroke-width="1.1" stroke-linejoin="miter"/>
<path d="M336.60,144.45 L337.48,146.59 L339.79,146.76 L338.03,148.26 L338.57,150.51 L336.60,149.30 L334.63,150.51 L335.17,148.26 L333.41,146.76 L335.72,146.59Z" fill="none" stroke="#0f0" stroke-width="1.1" stroke-linejoin="miter"/>
<path d="M294.50,197.35 L295.38,199.49 L297.69,199.66 L295.93,201.16 L296.47,203.41 L294.50,202.20 L292.53,203.41 L293.07,201.16 L291.31,199.66 L293.62,199.49Z" fill="none" stroke="#0f0" stroke-width="1.1" stroke-linejoin="miter"/>
<path d="M138.20,218.45 L139.08,220.59 L141.39,220.76 L139.63,222.26 L140.17,224.51 L138.20,223.30 L136.23,224.51 L136.77,222.26 L135.01,220.76 L137.32,220.59Z" fill="none" stroke="#0f0" stroke-width="1.1" stroke-linejoin="miter"/>
<path d="M140.70,275.55 L141.58,277.69 L143.89,277.86 L142.13,279.36 L142.67,281.61 L140.70,280.40 L138.73,281.61 L139.27,279.36 L137.51,277.86 L139.82,277.69Z" fill="none" stroke="#0f0" stroke-width="1.1" stroke-linejoin="miter"/>
<path d="M151.80,281.95 L152.68,284.09 L154.99,284.26 L153.23,285.76 L153.77,288.01 L151.80,286.80 L149.83,288.01 L150.37,285.76 L148.61,284.26 L150.92,284.09Z" fill="none" stroke="#0f0" stroke-width="1.1" stroke-linejoin="miter"/>
<path d="M193.10,325.05 L193.98,327.19 L196.29,327.36 L194.53,328.86 L195.07,331.11 L193.10,329.90 L191.13,331.11 L191.67,328.86 L189.91,327.36 L192.22,327.19Z" fill="none" stroke="#0f0" stroke-width="1.1" stroke-linejoin="miter"/>
</g><g clip-path="url(#c)">
<polyline points="230.0,394.6 198.9,370.1 185.0,358.3 172.7,347.4 167.8,342.7 161.3,335.4 152.4,325.4 146.4,318.2 141.3,311.1 137.9,305.0 136.0,300.0 132.5,289.5 129.5,284.0 128.6,279.0 128.9,274.2 133.4,269.6 138.7,264.8 140.5,263.2 135.6,257.8 125.5,248.6 117.5,242.2 111.7,238.9 125.5,234.3 135.6,231.8 150.0,230.3 160.0,231.0 170.4,232.3 185.6,236.4 200.0,240.9 226.5,248.8 245.0,254.5 256.0,256.6 266.2,255.6 272.0,254.3 276.8,251.8 282.5,246.8 287.4,240.6 291.5,232.8 295.3,224.7 300.0,214.3 304.6,203.5 310.7,191.0 319.4,175.0 327.5,161.3 336.6,148.4 346.5,135.3 356.4,123.3 366.5,110.8 380.0,96.0 392.9,81.2 406.0,67.5 419.4,54.5" fill="none" stroke="#00f" stroke-width="1.8" stroke-linejoin="round"/>
<polyline points="281.6,439.2 256.1,417.1 230.1,395.4 199.0,370.4 185.1,358.6 172.8,347.6 167.9,342.9 161.4,335.6 152.5,325.6 146.5,318.4 141.4,311.4 137.3,305.6 133.2,297.4 130.9,291.8" fill="none" stroke="#f00" stroke-width="1.7" stroke-linejoin="round"/>
<polyline points="130.8,291.5 129.3,285.4 129.0,275.2 129.7,271.7 129.5,269.1 128.3,266.8 122.6,261.9 116.0,256.5 112.2,253.2 112.0,251.5 112.6,249.6 115.3,245.5 120.4,240.5 126.5,235.4 132.6,231.8 140.7,229.3 150.0,228.2 160.0,228.8 170.4,230.3 185.6,234.3 200.0,239.4 226.5,247.3 245.0,253.0 256.0,255.2 266.2,254.9 272.0,253.8 276.8,251.4 282.5,246.5 287.4,240.3 291.5,232.5 295.3,224.4 300.0,214.0 304.6,203.2 310.7,190.0 319.4,174.1 327.5,160.5 336.6,147.6 346.5,134.5 356.4,122.5 366.5,110.0 380.0,95.5 392.9,80.9 406.0,67.3 419.4,54.4 430.0,46.5 440.5,39.8 452.0,33.5 465.2,27.2" fill="none" stroke="#f00" stroke-width="2.2" stroke-linejoin="round"/>
<polyline points="442.5,38.5 432.0,42.8 419.4,49.1 410.0,54.9 382.8,72.0 368.9,80.9 360.0,87.0 355.5,90.1 348.7,88.2 354.3,84.6 368.9,74.2 382.8,64.0 396.0,54.5 410.0,45.0 423.0,35.8 436.0,26.5" fill="none" stroke="#f00" stroke-width="2.2" stroke-linejoin="miter"/>
<polyline points="281.5,438.5 256.0,416.3 230.0,394.6 198.9,370.1 185.0,358.3 172.7,347.4 167.8,342.7 161.3,335.4 152.4,325.4 146.4,318.2 141.3,311.1 137.2,305.4 133.1,297.2 130.7,289.9 131.6,282.3 135.6,273.1 138.9,269.0 141.6,265.2 141.8,264.0 135.6,257.8 125.5,248.6 117.8,242.0 125.5,238.9 135.6,235.4 150.0,233.2 160.0,233.6 170.4,234.9 185.6,238.9 200.0,243.7 226.5,251.1 252.9,260.1 267.5,264.0 279.4,262.7 287.4,260.9 292.0,258.0 295.3,253.5 298.8,247.5 301.9,240.3 307.2,227.1 311.5,217.5 316.5,208.5 324.7,190.0 332.5,177.5 340.5,166.1 348.0,154.5 356.4,143.7 363.5,134.0 371.7,125.8 382.0,114.0 392.9,102.0 406.0,89.0 419.4,76.9 432.5,67.0 445.8,58.4 465.2,46.2" fill="none" stroke="#0f0" stroke-width="2.0" stroke-linejoin="round"/>
<polyline points="465.2,42.0 445.8,51.7 419.4,67.6 392.9,86.1 378.0,96.5 371.2,100.9 374.4,101.6 383.7,97.7 465.2,116.0" fill="none" stroke="#0f0" stroke-width="2.0" stroke-linejoin="round"/>
<circle cx="172.6" cy="347.4" r="3.45" fill="#fff" stroke="#000" stroke-width="1.5"/><circle cx="172.6" cy="347.4" r="1.1" fill="#000"/>
</g>
<text x="74.4" y="47.9" class="s" textLength="26.2" lengthAdjust="spacingAndGlyphs" font-weight="bold" font-size="10.7" fill="#000">BaSTI</text>
<text x="106.7" y="47.9" class="s" textLength="36.2" lengthAdjust="spacingAndGlyphs" font-weight="bold" font-size="10.7" fill="#000">(Scaled</text>
<text x="147.8" y="47.9" class="s" textLength="30.7" lengthAdjust="spacingAndGlyphs" font-weight="bold" font-size="10.7" fill="#000">solar):</text>
<text x="187.3" y="47.9" class="s" textLength="48.2" lengthAdjust="spacingAndGlyphs" font-weight="bold" font-size="10.7" fill="#f00">Standard,</text>
<text x="248.8" y="47.9" class="s" textLength="20.5" lengthAdjust="spacingAndGlyphs" font-weight="bold" font-size="10.7" fill="#00f">with</text>
<text x="275.5" y="47.9" class="s" textLength="64.5" lengthAdjust="spacingAndGlyphs" font-weight="bold" font-size="10.7" fill="#00f">Overshooting</text>
<text x="74.4" y="69.1" class="s" textLength="64.7" lengthAdjust="spacingAndGlyphs" font-size="11.8" fill="#222">[M/H]=0.058,</text>
<text x="144.7" y="69.1" class="s" textLength="47.8" lengthAdjust="spacingAndGlyphs" font-size="11.8" fill="#222">Z=0.0198,</text>
<text x="199" y="69.1" class="s" textLength="41.7" lengthAdjust="spacingAndGlyphs" font-size="11.8" fill="#222">Y=0.273,</text>
<text x="248.9" y="69.1" class="s" textLength="15.6" lengthAdjust="spacingAndGlyphs" font-size="11.8" fill="#222">t=4</text>
<text x="270.7" y="69.1" class="s" textLength="17.3" lengthAdjust="spacingAndGlyphs" font-size="11.8" fill="#222">Gyr</text>
<text x="73.2" y="88.8" class="s" textLength="34.7" lengthAdjust="spacingAndGlyphs" font-weight="bold" font-style="italic" font-size="10.7">E(B−V)</text>
<text x="111.9" y="88.8" class="s" textLength="5.9" lengthAdjust="spacingAndGlyphs" font-weight="bold" font-style="italic" font-size="10.7">=</text>
<text x="124.9" y="88.8" class="s" textLength="29.5" lengthAdjust="spacingAndGlyphs" font-weight="bold" font-style="italic" font-size="10.7">0.023;</text>
<text x="158.3" y="88.8" class="s" textLength="5.7" lengthAdjust="spacingAndGlyphs" font-weight="bold" font-style="italic" font-size="10.7">A</text>
<text x="175.1" y="88.8" class="s" textLength="5.5" lengthAdjust="spacingAndGlyphs" font-weight="bold" font-style="italic" font-size="10.7">=</text>
<text x="184.8" y="88.8" class="s" textLength="33.1" lengthAdjust="spacingAndGlyphs" font-weight="bold" font-style="italic" font-size="10.7">0.0713</text>
<text x="165.5" y="91.0" class="s" textLength="4.1" lengthAdjust="spacingAndGlyphs" font-weight="bold" font-style="italic" font-size="7.2" stroke="#000" stroke-width="0.25">V</text>
<text x="73.2" y="109.5" class="s" textLength="4.8" lengthAdjust="spacingAndGlyphs" font-weight="bold" font-style="italic" font-size="10.7">y</text>
<text x="87.9" y="109.5" class="s" textLength="5.9" lengthAdjust="spacingAndGlyphs" font-weight="bold" font-style="italic" font-size="10.7">=</text>
<text x="99.6" y="109.5" class="s" textLength="32.6" lengthAdjust="spacingAndGlyphs" font-weight="bold" font-style="italic" font-size="10.7">(m−M)</text>
<text x="142.8" y="109.5" class="s" textLength="5.9" lengthAdjust="spacingAndGlyphs" font-weight="bold" font-style="italic" font-size="10.7">=</text>
<text x="152.6" y="109.5" class="s" textLength="23.6" lengthAdjust="spacingAndGlyphs" font-weight="bold" font-style="italic" font-size="10.7">9.71;</text>
<text x="180.4" y="109.5" class="s" textLength="4.9" lengthAdjust="spacingAndGlyphs" font-weight="bold" font-style="italic" font-size="10.7">y</text>
<text x="195.8" y="109.5" class="s" textLength="5.9" lengthAdjust="spacingAndGlyphs" font-weight="bold" font-style="italic" font-size="10.7">=</text>
<text x="207.5" y="109.5" class="s" textLength="33.2" lengthAdjust="spacingAndGlyphs" font-weight="bold" font-style="italic" font-size="10.7">(m−M)</text>
<text x="252.0" y="109.5" class="s" textLength="5.9" lengthAdjust="spacingAndGlyphs" font-weight="bold" font-style="italic" font-size="10.7">=</text>
<text x="261.8" y="109.5" class="s" textLength="19.9" lengthAdjust="spacingAndGlyphs" font-weight="bold" font-style="italic" font-size="10.7">9.64</text>
<text x="78.6" y="111.7" class="s" textLength="4.4" lengthAdjust="spacingAndGlyphs" font-weight="bold" font-style="italic" font-size="7.2" stroke="#000" stroke-width="0.25">V</text>
<text x="132.6" y="111.7" class="s" textLength="4.4" lengthAdjust="spacingAndGlyphs" font-weight="bold" font-style="italic" font-size="7.2" stroke="#000" stroke-width="0.25">V</text>
<text x="186.6" y="111.7" class="s" textLength="3.6" lengthAdjust="spacingAndGlyphs" font-weight="bold" font-style="italic" font-size="7.2" stroke="#000" stroke-width="0.25">o</text>
<text x="241.4" y="111.7" class="s" textLength="3.6" lengthAdjust="spacingAndGlyphs" font-weight="bold" font-style="italic" font-size="7.2" stroke="#000" stroke-width="0.25">o</text>
<text x="74.3" y="130.0" class="s" textLength="35.0" lengthAdjust="spacingAndGlyphs" font-weight="bold" font-size="10.7" fill="#0f0">Padova</text>
<text x="115.6" y="130.0" class="s" textLength="28.0" lengthAdjust="spacingAndGlyphs" font-weight="bold" font-size="10.7" fill="#0f0">Log(t)</text>
<text x="149.7" y="130.0" class="s" textLength="5.9" lengthAdjust="spacingAndGlyphs" font-weight="bold" font-size="10.7" fill="#0f0">=</text>
<text x="161.8" y="130.0" class="s" textLength="18.0" lengthAdjust="spacingAndGlyphs" font-weight="bold" font-size="10.7" fill="#0f0">4.47</text>
<text x="186.9" y="130.0" class="s" textLength="17.1" lengthAdjust="spacingAndGlyphs" font-weight="bold" font-size="10.7" fill="#0f0">Gyr</text>
<circle cx="321.3" cy="311.3" r="5.4" fill="#000"/>
<path d="M321.30,326.50 L322.59,330.02 L326.34,330.16 L323.39,332.48 L324.42,336.09 L321.30,334.00 L318.18,336.09 L319.21,332.48 L316.26,330.16 L320.01,330.02Z" fill="none" stroke="#0f0" stroke-width="1.1"/>
<circle cx="321.3" cy="352.6" r="4.9" fill="none" stroke="#f00" stroke-width="1"/>
<text x="331.4" y="315.4" class="s" textLength="24.4" lengthAdjust="spacingAndGlyphs" font-weight="bold" font-size="10.7">Yadav</text>
<text x="364.4" y="315.4" class="s" textLength="8.2" lengthAdjust="spacingAndGlyphs" font-weight="bold" font-size="10.7">et</text>
<text x="380.3" y="315.4" class="s" textLength="10.7" lengthAdjust="spacingAndGlyphs" font-weight="bold" font-size="10.7">al.</text>
<text x="398" y="315.4" class="s" textLength="9.2" lengthAdjust="spacingAndGlyphs" font-weight="bold" font-style="italic" font-size="10.7">(P</text>
<text x="417.5" y="315.4" class="s" textLength="6.2" lengthAdjust="spacingAndGlyphs" font-weight="bold" font-style="italic" font-size="10.7">&gt;</text>
<text x="430.7" y="315.4" class="s" textLength="19.3" lengthAdjust="spacingAndGlyphs" font-weight="bold" font-style="italic" font-size="10.7">60%)</text>
<text x="407.8" y="317.79999999999995" class="s" textLength="3.8" lengthAdjust="spacingAndGlyphs" font-weight="bold" font-style="italic" font-size="7.2" stroke="#000" stroke-width="0.25">μ</text>
<text x="331.4" y="335.2" class="s" textLength="78.8" lengthAdjust="spacingAndGlyphs" font-weight="bold" font-size="10.7" fill="#0f0">binary−cleaned</text>
<text x="418.5" y="335.2" class="s" textLength="32.0" lengthAdjust="spacingAndGlyphs" font-weight="bold" font-size="10.7" fill="#0f0">sample</text>
<text x="331.4" y="356.5" class="s" textLength="50.4" lengthAdjust="spacingAndGlyphs" font-weight="bold" font-size="10.7" fill="#f00">Suspected</text>
<text x="388.8" y="356.5" class="s" textLength="38.8" lengthAdjust="spacingAndGlyphs" font-weight="bold" font-size="10.7" fill="#f00">binaries</text>
</svg>
</body></html>
